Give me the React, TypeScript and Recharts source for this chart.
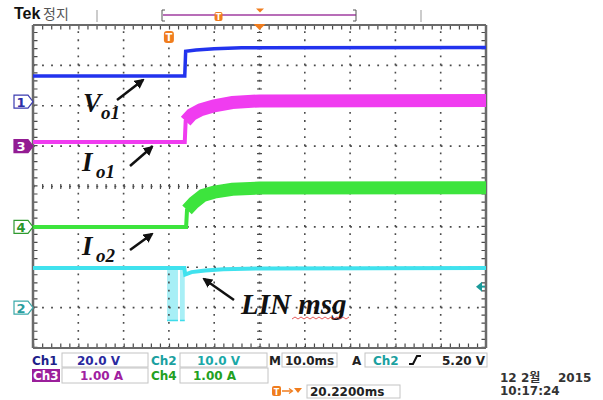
import React from "react"
import {
  ComposedChart,
  Line,
  Area,
  XAxis,
  YAxis,
  ReferenceLine,
  ReferenceDot,
} from "recharts"

// horizontal: 10 ms/div, trigger at t = 0 (3 div from left)
const timeTicks = [-30, -20, -10, 0, 10, 20, 30, 40, 50, 60, 70]
const divTicks = [-4, -3, -2, -1, 0, 1, 2, 3, 4]

// Ch1 Vo1, 20 V/div
const vo1Time = [-30, 3.5, 3.7, 6, 10, 16, 70]
const vo1Volts = [12.7, 12.7, 25.0, 25.6, 26.2, 26.7, 26.8]

// Ch3 Io1, 1 A/div
const io1Time = [-30, 3.5, 3.7, 5, 7, 10, 14, 20, 70]
const io1Amps = [0.1, 0.1, 0.62, 0.78, 0.9, 1.0, 1.08, 1.12, 1.13]

// Ch4 Io2, 1 A/div
const io2Time = [-30, 3.8, 4.0, 5.5, 7.5, 10, 14, 20, 70]
const io2Amps = [0, 0, 0.42, 0.6, 0.78, 0.86, 0.93, 0.96, 0.97]

// Ch2 LIN bus, 10 V/div
const linTime = [-30, 3.4, 3.6, 5, 8, 12, 20, 70]
const linVolts = [9.8, 9.8, 8.2, 8.8, 9.2, 9.5, 9.7, 9.8]

// LIN message bursts (start, end in ms; bus swing in V)
const burstStart = [-0.4, 2.45]
const burstEnd = [2.0, 3.5]
const burstHigh = 9.8
const burstLow = -3.2

// ground markers on the left edge (position in div)
const markerLabels = ["1", "3", "4", "2"]
const markerDivs = [2.1, 1.0, -1.0, -3.0]

const trigLevel = 5.2 // Ch2 trigger level, V

const CH1 = { scale: 20, offset: 2.1 }
const CH2 = { scale: 10, offset: -3.0 }
const CH3 = { scale: 1, offset: 1.0 }
const CH4 = { scale: 1, offset: -1.0 }

const toDiv = (v: number, ch: { scale: number; offset: number }) => v / ch.scale + ch.offset

const vo1Data = vo1Time.map((t, i) => ({ t, y: toDiv(vo1Volts[i], CH1) }))
const io1Data = io1Time.map((t, i) => ({ t, y: toDiv(io1Amps[i], CH3) }))
const io2Data = io2Time.map((t, i) => ({ t, y: toDiv(io2Amps[i], CH4) }))
const linData = linTime.map((t, i) => ({ t, y: toDiv(linVolts[i], CH2) }))

const burstData: { t: number; r: [number, number] | null }[] = []
burstStart.forEach((s, i) => {
  const r: [number, number] = [toDiv(burstLow, CH2), toDiv(burstHigh, CH2)]
  burstData.push({ t: s, r }, { t: burstEnd[i], r }, { t: burstEnd[i] + 0.01, r: null })
})

const T0 = timeTicks[0]
const T1 = timeTicks[timeTicks.length - 1]
const insetT = 0.5 // ruler tick half-length in ms (~2.3px)
const insetD = 0.055 // same in div (~2.2px)

const markerStyle: Record<string, { fill: string; stroke: string; text: string }> = {
  "1": { fill: "#fff", stroke: "#3b3bb0", text: "#2c2ca8" },
  "3": { fill: "#931c93", stroke: "#931c93", text: "#fff" },
  "4": { fill: "#fff", stroke: "#2f9a2f", text: "#2a962a" },
  "2": { fill: "#fff", stroke: "#3aa9a9", text: "#2a9e9e" },
}

const markerShape = (label: string) => (p: any) => {
  const s = markerStyle[label]
  const x = p.cx
  const y = p.cy
  return (
    <g>
      <path
        d={`M${x - 19} ${y - 6.5} L${x - 5} ${y - 6.5} L${x} ${y} L${x - 5} ${y + 6.5} L${x - 19} ${y + 6.5} Z`}
        fill={s.fill}
        stroke={s.stroke}
        strokeWidth={1.2}
      />
      <text x={x - 12} y={y + 5} textAnchor="middle" fontSize={13} fontFamily="DejaVu Sans" fontWeight="bold" fill={s.text}>
        {label}
      </text>
    </g>
  )
}

const mono = "DejaVu Sans, Noto Sans CJK KR"
const serif = "Liberation Serif, Times New Roman, serif"
const ax = { xAxisId: "t", yAxisId: "d" }

export default function App() {
  const gridColor = "#4a4a4a"
  const frame = "#6a6a6a"
  return (
    <div style={{ position: "absolute", left: 0, top: 0, width: 603, height: 400, background: "#fff" }}>
      <ComposedChart width={603} height={400} margin={{ top: 25, right: 117, bottom: 52, left: 33 }}>
        <XAxis xAxisId="t" type="number" dataKey="t" domain={[T0, T1]} allowDataOverflow ticks={timeTicks} hide />
        <YAxis yAxisId="d" type="number" domain={[-4, 4]} allowDataOverflow ticks={divTicks} hide />

        {/* dotted graticule */}
        {divTicks.slice(1, -1).map((d) => (
          <ReferenceLine key={"h" + d} {...ax} y={d} stroke={gridColor} strokeWidth={1.6} strokeDasharray="1.8 7.26" />
        ))}
        {timeTicks.slice(1, -1).map((t) => (
          <ReferenceLine key={"v" + t} {...ax} x={t} stroke={gridColor} strokeWidth={1.6} strokeDasharray="1.8 6.275" />
        ))}
        {/* centre cross ticks */}
        <ReferenceLine {...ax} x={20} stroke={gridColor} strokeWidth={5} strokeDasharray="1.2 6.875" />
        <ReferenceLine {...ax} y={0} stroke={gridColor} strokeWidth={5} strokeDasharray="1.2 7.86" />
        {/* edge rulers */}
        <ReferenceLine {...ax} segment={[{ x: T0, y: 4 - insetD }, { x: T1, y: 4 - insetD }]} stroke={gridColor} strokeWidth={4.5} strokeDasharray="1.2 7.86" />
        <ReferenceLine {...ax} segment={[{ x: T0, y: -4 + insetD }, { x: T1, y: -4 + insetD }]} stroke={gridColor} strokeWidth={4.5} strokeDasharray="1.2 7.86" />
        <ReferenceLine {...ax} segment={[{ x: T0 + insetT, y: -4 }, { x: T0 + insetT, y: 4 }]} stroke={gridColor} strokeWidth={4.5} strokeDasharray="1.2 6.875" />
        <ReferenceLine {...ax} segment={[{ x: T1 - insetT, y: -4 }, { x: T1 - insetT, y: 4 }]} stroke={gridColor} strokeWidth={4.5} strokeDasharray="1.2 6.875" />
        {/* frame */}
        <ReferenceLine {...ax} y={4} stroke={frame} strokeWidth={2} />
        <ReferenceLine {...ax} y={-4} stroke={frame} strokeWidth={2} />
        <ReferenceLine {...ax} x={T0} stroke={frame} strokeWidth={2.5} />
        <ReferenceLine {...ax} x={T1} stroke={frame} strokeWidth={2.5} />

        <Area {...ax} data={burstData} dataKey="r" type="linear" stroke="#3fdcea" strokeWidth={1.5}
          fill="#a8eff6" fillOpacity={1} dot={false} activeDot={false} isAnimationActive={false} />

        <Line {...ax} data={linData} dataKey="y" type="linear" stroke="#40e2ee" strokeWidth={4}
          dot={false} activeDot={false} isAnimationActive={false} />
        <Line {...ax} data={io2Data} dataKey="y" type="linear" stroke="#3de43d" strokeWidth={4}
          dot={false} activeDot={false} isAnimationActive={false} />
        <Line {...ax} data={io2Data.filter((d) => d.t >= 4)} dataKey="y" type="linear" stroke="#3de43d"
          strokeWidth={13} dot={false} activeDot={false} isAnimationActive={false} />
        <Line {...ax} data={io1Data} dataKey="y" type="linear" stroke="#f03cf0" strokeWidth={4}
          dot={false} activeDot={false} isAnimationActive={false} />
        <Line {...ax} data={io1Data.filter((d) => d.t >= 3.7)} dataKey="y" type="linear" stroke="#f03cf0"
          strokeWidth={13} dot={false} activeDot={false} isAnimationActive={false} />
        <Line {...ax} data={vo1Data} dataKey="y" type="linear" stroke="#2233ee" strokeWidth={3.5}
          dot={false} activeDot={false} isAnimationActive={false} />

        {markerLabels.map((lab, i) => (
          <ReferenceDot key={"m" + lab} {...ax} x={T0} y={markerDivs[i]} r={0} ifOverflow="visible" shape={markerShape(lab)} />
        ))}
        <ReferenceDot {...ax} x={0} y={3.7} r={0}
          shape={(p: any) => (
            <g>
              <rect x={p.cx - 5} y={p.cy - 6} width={10} height={12} rx={3} fill="#f07d1e" />
              <text x={p.cx} y={p.cy + 4} textAnchor="middle" fontSize={10} fontWeight="bold" fontFamily={mono} fill="#fff">T</text>
            </g>
          )} />
        <ReferenceDot {...ax} x={20} y={4} r={0} ifOverflow="visible"
          shape={(p: any) => <path d={`M${p.cx - 6} ${p.cy - 1} L${p.cx + 6} ${p.cy - 1} L${p.cx} ${p.cy + 5} Z`} fill="#f07d1e" />} />
        <ReferenceDot {...ax} x={T1} y={toDiv(trigLevel, CH2)} r={0} ifOverflow="visible"
          shape={(p: any) => (
            <g>
              <path d={`M${p.cx - 10} ${p.cy} L${p.cx - 4} ${p.cy - 5} L${p.cx - 4} ${p.cy + 5} Z`} fill="#1a9a9a" />
              <line x1={p.cx - 5} y1={p.cy} x2={p.cx - 1} y2={p.cy} stroke="#1a9a9a" strokeWidth={2} />
            </g>
          )} />
      </ComposedChart>

      <svg width={603} height={400} style={{ position: "absolute", left: 0, top: 0, pointerEvents: "none" }}>
        <defs>
          <marker id="ah" markerWidth="10" markerHeight="10" refX="8" refY="5" orient="auto" markerUnits="userSpaceOnUse">
            <path d="M0 0 L10 5 L0 10 Z" fill="#111" />
          </marker>
        </defs>

        {/* header */}
        <text x={14} y={19} fontSize={16} fontWeight="bold" fontFamily="Liberation Sans, Arial" fill="#111">Tek</text>
        <text x={43} y={19} fontSize={14} fontFamily="Noto Sans CJK KR" fill="#555">정지</text>
        <line x1={97} y1={10} x2={97} y2={22} stroke="#999" strokeWidth={1} />
        <path d="M165 10 L162 10 L162 21 L165 21" fill="none" stroke="#555" strokeWidth={1} />
        <line x1={163} y1={15} x2={356} y2={15} stroke="#a03ca0" strokeWidth={1.5} />
        <path d="M353 10 L356 10 L356 21 L353 21" fill="none" stroke="#555" strokeWidth={1} />
        <rect x={214.5} y={12} width={8} height={9} rx={2} fill="#f07d1e" />
        <text x={218.5} y={19.5} textAnchor="middle" fontSize={8} fontWeight="bold" fontFamily={mono} fill="#fff">T</text>
        <path d="M256 8.5 L264 8.5 L260 12.5 Z" fill="#f07d1e" />
        <line x1={421} y1={10} x2={421} y2={22} stroke="#999" strokeWidth={1} />

        {/* annotations */}
        <g fontFamily={serif} fontWeight="bold" fontStyle="italic" fill="#111">
          <text x={83} y={112} fontSize={27}>V</text>
          <text x={101} y={119} fontSize={19}>o1</text>
          <text x={82} y={171} fontSize={27}>I</text>
          <text x={96} y={178} fontSize={19}>o1</text>
          <text x={82} y={255} fontSize={27}>I</text>
          <text x={96} y={262} fontSize={19}>o2</text>
          <text x={241} y={314} fontSize={29}>LIN msg</text>
        </g>
        <g stroke="#111" strokeWidth={2.5}>
          <line x1={117} y1={100} x2={143} y2={80} markerEnd="url(#ah)" />
          <line x1={130} y1={166} x2={152} y2={147} markerEnd="url(#ah)" />
          <line x1={130} y1={250} x2={152} y2={234} markerEnd="url(#ah)" />
          <line x1={234} y1={300} x2={204} y2={279} markerEnd="url(#ah)" />
        </g>
        <path d="M292 319 l3 -2 l3 2 l3 -2 l3 2 l3 -2 l3 2 l3 -2 l3 2 l3 -2 l3 2 l3 -2 l3 2 l3 -2 l3 2 l3 -2 l3 2 l3 -2 l3 2 l3 -2"
          fill="none" stroke="#e03030" strokeWidth={0.8} />

        {/* readout panel */}
        <g fontFamily={mono} fontSize={12} fontWeight="bold">
          <text x={32} y={365} fill="#1e1e8a">Ch1</text>
          <rect x={62} y={353} width={86} height={14} fill="#fff" stroke="#c4c4c4" />
          <text x={77} y={365} fill="#2a2aa0">20.0 V</text>
          <text x={151} y={365} fill="#1aa0a0">Ch2</text>
          <rect x={180} y={353} width={87} height={14} fill="#fff" stroke="#c4c4c4" />
          <text x={197} y={365} fill="#1aa8a8">10.0 V</text>
          <text x={269} y={365} fill="#222">M</text>
          <rect x={282} y={353} width={55} height={14} fill="#fff" stroke="#c4c4c4" />
          <text x={285} y={365} fill="#222">10.0ms</text>
          <text x={352} y={365} fill="#222">A</text>
          <rect x={365} y={353} width={122} height={14} fill="#fff" stroke="#c4c4c4" />
          <text x={373} y={365} fill="#1aa0a0">Ch2</text>
          <path d="M409 364 L413 364 L417 356 L421 356" fill="none" stroke="#111" strokeWidth={2} />
          <text x={442} y={365} fill="#222">5.20 V</text>

          <rect x={32} y={369} width={28} height={13} fill="#9b1f9b" />
          <text x={33} y={380} fill="#fff">Ch3</text>
          <rect x={62} y={368} width={86} height={15} fill="#fff" stroke="#c4c4c4" />
          <text x={80} y={380} fill="#a020a0">1.00 A</text>
          <text x={151} y={380} fill="#22a022">Ch4</text>
          <rect x={180} y={368} width={88} height={15} fill="#fff" stroke="#c4c4c4" />
          <text x={193} y={380} fill="#22a022">1.00 A</text>

          <rect x={307} y={385} width={93} height={13} fill="#fff" stroke="#c4c4c4" />
          <text x={310} y={396} fill="#222">20.2200ms</text>

          <text x={500} y={382} fill="#333">12 2월</text>
          <text x={558} y={382} fill="#333">2015</text>
          <text x={500} y={395} fill="#333">10:17:24</text>
        </g>
        <rect x={272} y={386} width={9} height={10} rx={2} fill="#f07d1e" />
        <text x={276.5} y={394.5} textAnchor="middle" fontSize={8} fontWeight="bold" fontFamily={mono} fill="#fff">T</text>
        <line x1={282} y1={391} x2={292} y2={391} stroke="#f07d1e" strokeWidth={1.5} />
        <path d="M289 388.5 L292.5 391 L289 393.5" fill="none" stroke="#f07d1e" strokeWidth={1.2} />
        <path d="M294 388 L302 388 L298 393 Z" fill="#f07d1e" />
      </svg>
    </div>
  )
}
